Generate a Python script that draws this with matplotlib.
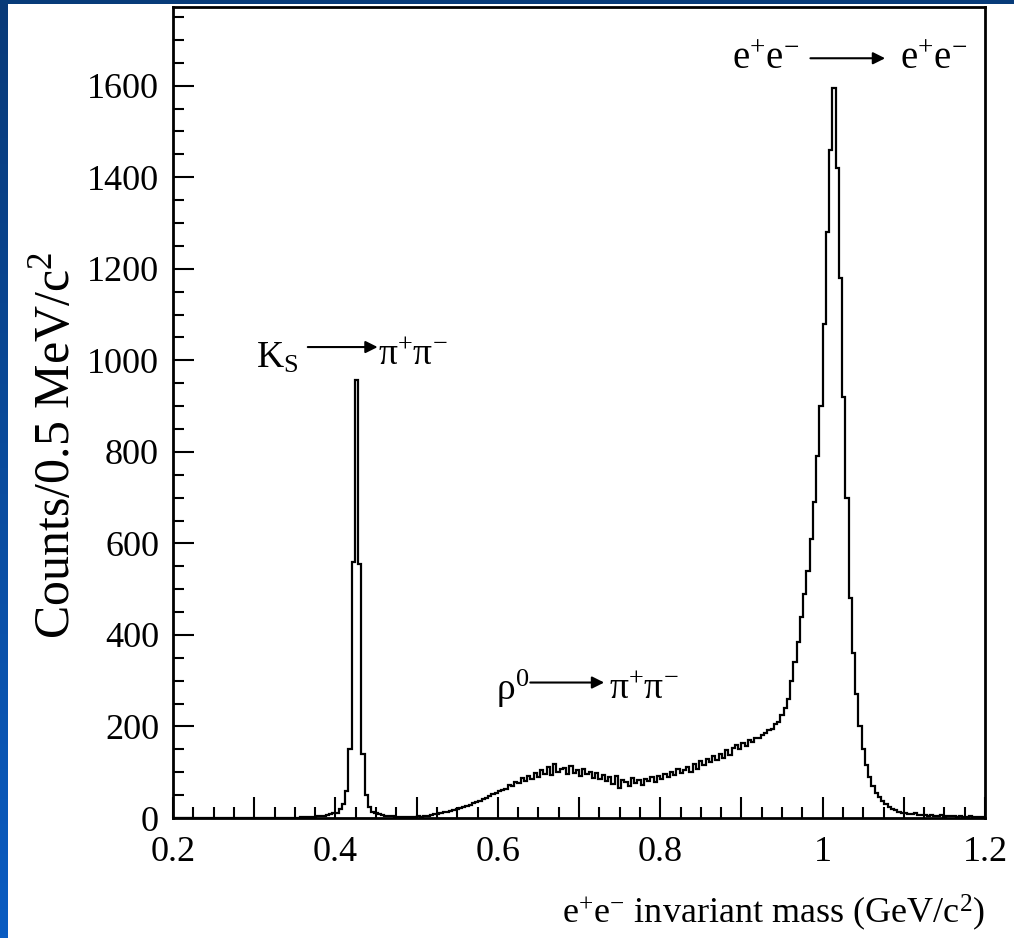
import numpy as np
import matplotlib
matplotlib.use("Agg")
import matplotlib.pyplot as plt
from matplotlib.ticker import MultipleLocator, FuncFormatter

plt.rcParams['font.family'] = ['Liberation Serif', 'DejaVu Serif']
plt.rcParams['mathtext.fontset'] = 'custom'
plt.rcParams['mathtext.rm'] = 'Liberation Serif'
plt.rcParams['mathtext.it'] = 'Liberation Serif:italic'

# histogram: e+e- invariant mass, 4 MeV bins from 0.2 GeV
mass_lo = 0.2
bin_w = 0.004
counts = [
    0, 0, 0, 0, 0, 0, 0, 0, 0, 0,                      # 0.200
    0, 0, 0, 0, 0, 0, 0, 0, 0, 0,                      # 0.240
    0, 0, 0, 0, 0, 0, 0, 0, 0, 0,                      # 0.280
    0, 0, 0, 0, 0, 0, 0, 1, 1, 2,                      # 0.320
    2, 2, 3, 3, 4, 4, 5, 6, 8, 10,                     # 0.360
    12, 20, 30, 60, 150, 560, 957, 555, 140, 50,       # 0.400
    25, 14, 10, 8, 6, 5, 4, 4, 3, 3,                   # 0.440
    3, 3, 2, 3, 2, 4, 3, 4, 5, 6,                      # 0.480
    8, 9, 11, 13, 14, 16, 18, 20, 22, 24,              # 0.520
    27, 29, 33, 35, 38, 42, 44, 49, 52, 55,            # 0.560
    58, 62, 64, 72, 70, 78, 76, 88, 80, 92,            # 0.600
    86, 98, 90, 104, 96, 112, 94, 118, 100, 106,       # 0.640
    110, 96, 114, 98, 104, 92, 108, 96, 100, 88,       # 0.680
    98, 86, 94, 80, 90, 74, 92, 66, 84, 78,            # 0.720
    70, 88, 76, 84, 72, 86, 80, 90, 78, 92,            # 0.760
    86, 96, 90, 100, 94, 108, 98, 104, 112, 100,       # 0.800
    118, 108, 124, 116, 128, 122, 136, 126, 140, 132,  # 0.840
    148, 138, 152, 160, 150, 164, 158, 170, 166, 174,  # 0.880
    175, 182, 185, 192, 195, 205, 210, 225, 240, 260,  # 0.920
    300, 340, 385, 440, 490, 540, 610, 690, 790, 900,  # 0.960
    1080, 1280, 1460, 1595, 1420, 1180, 920, 700, 480, 360,  # 1.000
    270, 200, 150, 115, 90, 70, 55, 45, 38, 30,        # 1.040
    25, 20, 18, 14, 12, 11, 9, 8, 10, 7,               # 1.080
    6, 7, 5, 6, 4, 5, 6, 3, 4, 5,                      # 1.120
    4, 3, 4, 2, 3, 4, 2, 3, 2, 2,                      # 1.160
]
edges = mass_lo + bin_w * np.arange(len(counts) + 1)

W, H = 1014, 938
fig = plt.figure(figsize=(W / 100, H / 100), dpi=100)
fig.patch.set_facecolor('white')

# slide frame: blue gradient strip on the left, dark strip on top
grad = np.linspace(0, 1, 256).reshape(-1, 1)
bar = fig.add_axes([0, 0, 8 / W, 1])
bar.imshow(grad, aspect='auto', cmap=matplotlib.colors.LinearSegmentedColormap.from_list(
    'slide', ['#083a78', '#0a5cc2']), extent=[0, 1, 0, 1])
bar.axis('off')
top = fig.add_axes([0, 1 - 4 / H, 1, 4 / H])
top.axis('off')
top.add_patch(plt.Rectangle((0, 0), 1, 1, color='#073b79', transform=top.transAxes))

ax = fig.add_axes([173 / W, 1 - 818 / H, (985 - 173) / W, (818 - 7) / H])
ax.stairs(counts, edges, color='black', lw=1.6)

ax.set_xlim(0.2, 1.2)
ax.set_ylim(0, 1772)

for s in ax.spines.values():
    s.set_linewidth(2)

ax.xaxis.set_major_locator(MultipleLocator(0.1))
ax.xaxis.set_minor_locator(MultipleLocator(0.025))
ax.xaxis.set_major_formatter(FuncFormatter(
    lambda v, p: ('%g' % round(v, 1)) if abs(round(v * 10) % 2) < 0.5 else ''))
ax.yaxis.set_major_locator(MultipleLocator(200))
ax.yaxis.set_minor_locator(MultipleLocator(50))
ax.tick_params(which='both', direction='in', top=False, right=False, width=1.5)
ax.tick_params(which='major', length=15, labelsize=26)
ax.tick_params(which='minor', length=8)
ax.tick_params(axis='y', pad=10)
ax.tick_params(axis='x', pad=13)

ax.set_ylabel(r'Counts/0.5 MeV/c$^2$', fontsize=36)
ax.yaxis.set_label_coords(-0.115, 0.46)
ax.set_xlabel(r'e$^{+}$e$^{-}$ invariant mass (GeV/c$^2$)', fontsize=26)
ax.xaxis.set_label_coords(0.74, -0.092)

# process labels with arrows
arrow = dict(arrowstyle='-|>', color='black', lw=1.5, mutation_scale=18,
             shrinkA=0, shrinkB=0)
ax.text(0.302, 1005, r'K$_{\mathrm{S}}$', fontsize=27, va='center')
ax.annotate('', xy=(0.452, 1029), xytext=(0.366, 1029), arrowprops=arrow)
ax.text(0.453, 1012, r'$\mathrm{\pi^{+}\pi^{-}}$', fontsize=27, va='center')

ax.text(0.598, 282, r'$\mathrm{\rho^{0}}$', fontsize=27, va='center')
ax.annotate('', xy=(0.731, 296), xytext=(0.640, 296), arrowprops=arrow)
ax.text(0.737, 282, r'$\mathrm{\pi^{+}\pi^{-}}$', fontsize=27, va='center')

ax.text(0.889, 1657, r'e$^{+}$e$^{-}$', fontsize=28, va='center')
ax.annotate('', xy=(1.077, 1660), xytext=(0.985, 1660), arrowprops=arrow)
ax.text(1.095, 1657, r'e$^{+}$e$^{-}$', fontsize=28, va='center')

fig.savefig('out.png', dpi=100)
